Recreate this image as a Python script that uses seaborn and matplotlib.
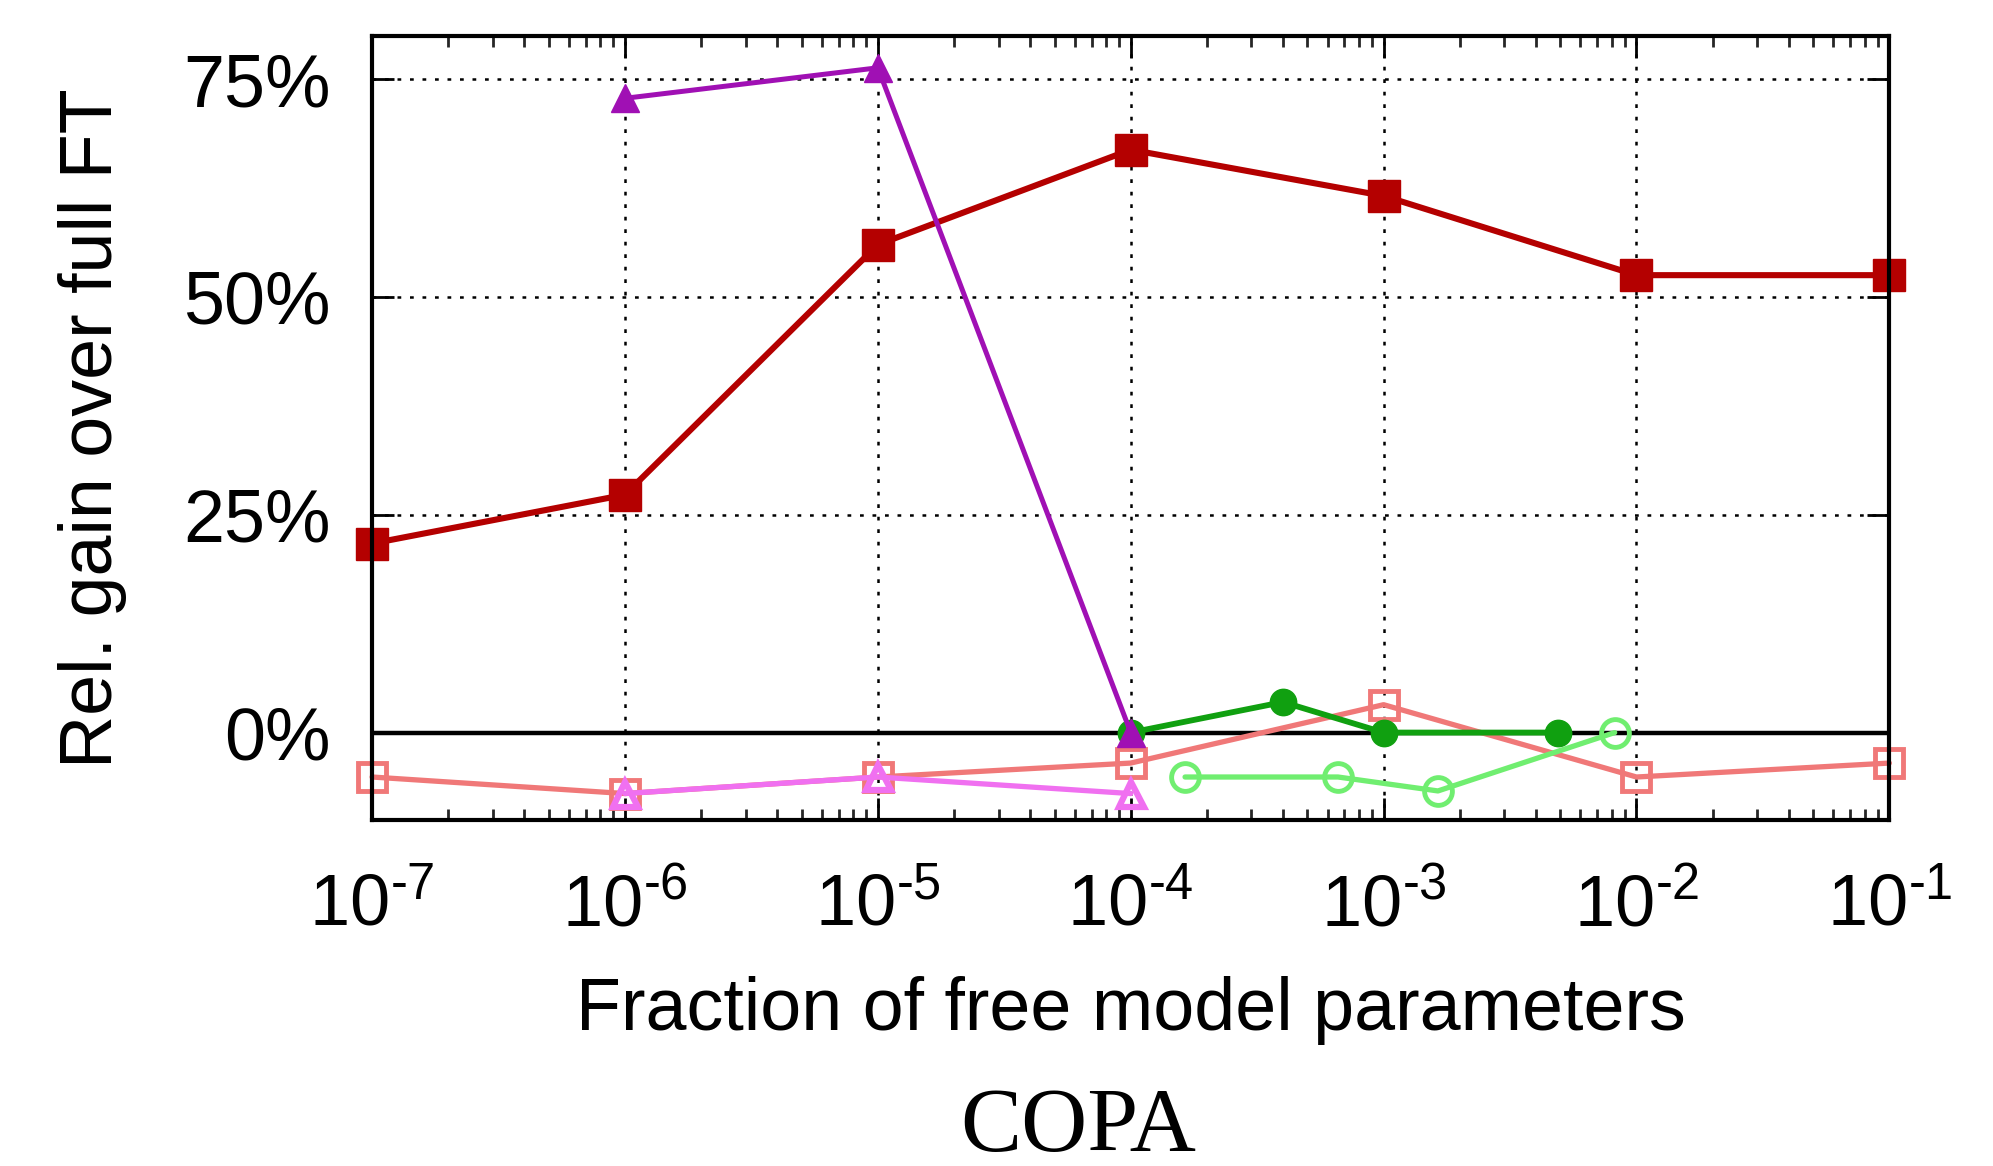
import matplotlib
matplotlib.use("Agg")
import matplotlib.pyplot as plt
import matplotlib.ticker as mticker
import numpy as np
import pandas as pd
import seaborn as sns

# ---- data ----
x_main = [1e-7, 1e-6, 1e-5, 1e-4, 1e-3, 1e-2, 1e-1]
dark_red = [21.7, 27.3, 56.0, 66.9, 61.6, 52.5, 52.5]
salmon = [-5.1, -7.0, -5.1, -3.5, 3.2, -5.1, -3.5]

x_tri = [1e-6, 1e-5, 1e-4]
purple = [72.8, 76.3, 0.0]
violet = [-7.0, -5.1, -7.0]

x_dgreen = [1e-4, 4.0e-4, 1e-3, 4.9e-3]
dgreen = [0.0, 3.5, 0.0, 0.0]

x_lgreen = [1.64e-4, 6.6e-4, 1.64e-3, 8.2e-3]
lgreen = [-5.1, -5.1, -6.7, 0.0]

x_ticks = [1e-7, 1e-6, 1e-5, 1e-4, 1e-3, 1e-2, 1e-1]
x_ticklabels = ["$\\mathregular{10^{\u20107}}$", "$\\mathregular{10^{\u20106}}$",
                "$\\mathregular{10^{\u20105}}$", "$\\mathregular{10^{\u20104}}$",
                "$\\mathregular{10^{\u20103}}$", "$\\mathregular{10^{\u20102}}$",
                "$\\mathregular{10^{\u20101}}$"]
y_ticks = [0, 25, 50, 75]
y_ticklabels = ["0%", "25%", "50%", "75%"]

sns.set_theme(style="white")
plt.rcParams["font.family"] = ["Liberation Sans", "DejaVu Sans"]
plt.rcParams["mathtext.fontset"] = "custom"
plt.rcParams["mathtext.rm"] = "Liberation Sans"
plt.rcParams["mathtext.default"] = "regular"

fig = plt.figure(figsize=(19.93, 11.66), dpi=100)
ax = fig.add_axes([0.1867, 0.297, 0.948 - 0.1867, 0.9695 - 0.297])

ax.set_xscale("log")
ax.set_xlim(1e-7, 1e-1)
ax.set_ylim(-10, 80)

# grid
for xv in x_ticks[1:-1]:
    ax.axvline(xv, color="black", lw=1.8, ls=(0, (1.5, 3.5)), zorder=0)
for yv in [25, 50, 75]:
    ax.axhline(yv, color="black", lw=1.8, ls=(0, (1.5, 3.5)), zorder=0)
ax.axhline(0, color="black", lw=3.2, zorder=1)

def draw(xs, ys, color, marker, ms, filled, lw=3.0, z=2, mew=3.5):
    df = pd.DataFrame({"x": xs, "y": ys})
    kw = dict(marker=marker, markersize=ms, color=color, linewidth=lw,
              markeredgecolor=color, markeredgewidth=mew if not filled else 1.0,
              zorder=z, clip_on=False)
    if not filled:
        kw["markerfacecolor"] = "none"
    sns.lineplot(data=df, x="x", y="y", ax=ax, sort=False, errorbar=None,
                 legend=False, **kw)

draw(x_main, salmon, "#f07878", "s", 20, False, lw=3.8, z=2)
draw(x_tri, violet, "#f070f0", "^", 18, False, lw=3.8, z=3, mew=4.5)
draw(x_lgreen, lgreen, "#70ee70", "o", 20, False, lw=3.8, z=3)
draw(x_main, dark_red, "#b40000", "s", 23, True, lw=4.4, z=4)
draw(x_dgreen, dgreen, "#10a010", "o", 19, True, lw=4.2, z=5)
draw(x_tri, purple, "#a010b4", "^", 20, True, lw=3.6, z=6)

# axes styling
for s in ax.spines.values():
    s.set_color("black")
    s.set_linewidth(3.0)
    s.set_zorder(7)

ax.set_xticks(x_ticks)
ax.set_xticklabels(x_ticklabels)
ax.xaxis.set_minor_locator(mticker.LogLocator(base=10, subs=np.arange(2, 10)))
ax.xaxis.set_minor_formatter(mticker.NullFormatter())
ax.set_yticks(y_ticks)
ax.set_yticklabels(y_ticklabels)

ax.tick_params(axis="x", which="major", direction="in", top=True, bottom=True,
               length=16, width=2, labelsize=52, pad=38, colors="black")
ax.tick_params(axis="x", which="minor", direction="in", top=True, bottom=True,
               length=8, width=2)
ax.tick_params(axis="y", which="major", direction="in", left=True, right=True,
               length=16, width=2, labelsize=53, pad=30, colors="black")

ax.set_xlabel("Fraction of free model parameters", fontsize=53, labelpad=26, color="black")
ax.set_ylabel("Rel. gain over full FT", fontsize=53, labelpad=40, color="black")

fig.text(0.541, 0.032, "COPA", ha="center", va="center", fontsize=66,
         family=["Liberation Serif", "DejaVu Serif"], color="black")

fig.savefig("out.png", dpi=100, facecolor="white")
